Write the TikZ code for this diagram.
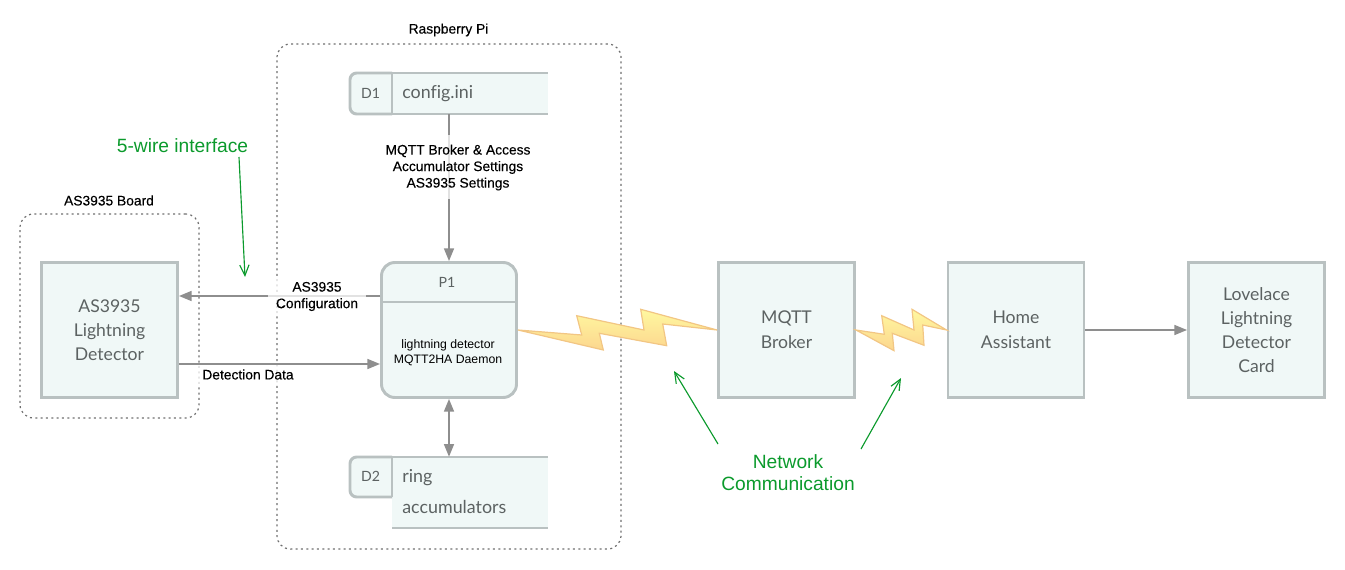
\documentclass[tikz,border=0pt]{standalone}
\usepackage{fontspec}
\setmainfont{Liberation Sans}
\newfontfamily\boxfont[Ligatures=NoCommon]{Lato}
\newfontfamily\lblfont[FakeBold=0.22]{Liberation Sans}
\usetikzlibrary{arrows.meta,calc}
\definecolor{edgegray}{HTML}{B9C1C1}
\definecolor{boxfill}{HTML}{F0F8F7}
\definecolor{boxtext}{HTML}{5C6262}
\definecolor{conngray}{HTML}{8E8E8E}
\definecolor{notegreen}{HTML}{0B9A2C}
\definecolor{dashgray}{HTML}{6E6E6E}
\definecolor{boltedge}{HTML}{F2C684}
\definecolor{bolttop}{HTML}{FFF8A0}
\definecolor{boltbot}{HTML}{FCD68E}
\tikzset{
  blockbox/.style={draw=edgegray,line width=2.2pt,fill=boxfill,minimum width=136*0.75pt,minimum height=135*0.75pt,inner sep=0pt,align=center,text=boxtext,font=\boxfont\fontsize{13.2}{18}\selectfont},
  roundbox/.style={draw=edgegray,line width=2.2pt,fill=boxfill,rounded corners=10pt,minimum width=135*0.75pt,minimum height=135*0.75pt,inner sep=0pt},
  groupbox/.style={draw=dashgray,line width=0.9pt,dash pattern=on 1.5pt off 2.5pt,rounded corners=10pt,fill=none,inner sep=0pt},
  conn/.style={draw=conngray,line width=1.2pt},
  tip/.style={-{Triangle[length=9.5pt,width=7.5pt,fill=conngray]}},
  twotip/.style={{Triangle[length=9.5pt,width=7.5pt,fill=conngray]}-{Triangle[length=9.5pt,width=7.5pt,fill=conngray]}},
  label/.style={font=\lblfont\fontsize{10.35}{12.4}\selectfont,text=black,align=center,inner sep=0pt},
  connlabel/.style={label,fill=white,fill opacity=0.75,text opacity=1},
  boxlabel/.style={font=\boxfont\fontsize{13.4}{22}\selectfont,text=boxtext,inner sep=0pt},
  tablabel/.style={font=\boxfont\fontsize{10.6}{13}\selectfont,text=boxtext,inner sep=0pt},
  green note/.style={font=\fontsize{14.4}{16.5}\selectfont,text=notegreen,align=center,inner sep=0pt},
  greenarrow/.style={draw=notegreen,line width=0.85pt,-{Straight Barb[length=8pt,width=7pt]}},
  bolt/.style={draw=boltedge,line width=0.9pt,line join=miter,top color=bolttop,bottom color=boltbot},
  edge/.style={draw=edgegray,line width=2.2pt}
}
\begin{document}
\begin{tikzpicture}[x=0.75pt,y=-0.75pt]
\useasboundingbox (0,0) rectangle (1345,570);

% groups
\node[groupbox,minimum width=344*0.75pt,minimum height=505*0.75pt] (pi) at (449,296.5) {};
\node[groupbox,minimum width=179*0.75pt,minimum height=204*0.75pt] (board) at (109.5,316) {};
\node[label] (pilabel) at (448.5,30) {Raspberry Pi};
\node[label] (boardlabel) at (109,200.5) {AS3935 Board};

% D1
\fill[boxfill] (392,73) -- (548,73) -- (548,114) -- (392,114) -- cycle;
\node[inner sep=0pt,minimum width=156*0.75pt,minimum height=41*0.75pt] (d1) at (470,93.5) {};
\draw[edge,fill=boxfill,rounded corners=5pt] (392,73) -- (350,73) -- (350,114) -- (392,114);
\draw[edge] (392,73) -- (392,114);
\draw[edge] (392,73) -- (548,73);
\draw[edge] (392,114) -- (548,114);
\node[tablabel] (d1tab) at (370.5,93) {D1};
\node[boxlabel,anchor=west] (d1text) at (402,93.5) {config.ini};

% D2
\fill[boxfill] (392,457) -- (548,457) -- (548,528) -- (392,528) -- cycle;
\node[inner sep=0pt,minimum width=156*0.75pt,minimum height=71*0.75pt] (d2) at (470,492.5) {};
\draw[edge,fill=boxfill,rounded corners=5pt] (392,457) -- (350,457) -- (350,497) -- (392,497);
\draw[edge] (392,457) -- (392,497);
\draw[edge] (392,457) -- (548,457);
\draw[edge] (392,528) -- (548,528);
\node[tablabel] (d2tab) at (370.5,476) {D2};
\node[boxlabel,anchor=west] (d2a) at (402,477.5) {ring};
\node[boxlabel,anchor=west] (d2b) at (402,506.5) {accumulators};

% boxes
\node[blockbox] (as) at (109.5,330) {AS3935\\Lightning\\Detector};
\node[roundbox] (p1) at (449,330) {};
\draw[edge] (p1.west |- 0,302) -- (p1.east |- 0,302);
\node[tablabel] (p1title) at (447,282) {P1};
\node[font=\fontsize{9.2}{11.3}\selectfont,align=center,inner sep=0pt] (p1text) at (448,352.5) {lightning detector\\MQTT2HA Daemon};
\node[blockbox,font=\boxfont\fontsize{13.2}{18.5}\selectfont] (mqtt) at (786.5,330) {MQTT\\Broker};
\node[blockbox,font=\boxfont\fontsize{13.2}{18.5}\selectfont] (ha) at (1016,330) {Home\\Assistant};
\node[blockbox] (lovelace) at (1256.5,330) {Lovelace\\Lightning\\Detector\\Card};

% connectors
\coordinate (cfgy) at (0,296);
\coordinate (dety) at (0,364);
\draw[conn,tip] (p1.north |- d1.south) -- (p1.north);
\draw[conn,tip] (p1.west |- cfgy) -- (as.east |- cfgy);
\draw[conn,tip] (as.east |- dety) -- (p1.west |- dety);
\draw[conn,twotip] (p1.south) -- (p1.south |- d2.north);
\draw[conn,tip] (ha.east) -- (lovelace.west);

% connector labels
\node[connlabel,minimum width=146*0.75pt,minimum height=64*0.75pt] (lblcfg) at (458,167.5) {MQTT Broker \& Access\\Accumulator Settings\\AS3935 Settings};
\node[connlabel,minimum width=98*0.75pt,minimum height=36*0.75pt] (lblas) at (317,296.5) {AS3935\\Configuration};
\node[connlabel,minimum width=107*0.75pt,minimum height=20*0.75pt] (lbldet) at (248,374.5) {Detection Data};

% lightning bolts
\path[bolt] (p1.east) -- (603.3,350) -- (599.3,333.3) -- (666.7,345.7) -- (662.7,324) -- (mqtt.west) -- (640.7,309.3) -- (644,330) -- (576.7,315.7) -- (581.7,335) -- cycle;
\path[bolt] (mqtt.east) -- (894,350.7) -- (892.3,333.3) -- (924,345.3) -- (922.7,325) -- (ha.west) -- (912,309.3) -- (914,330) -- (881.7,315.7) -- (884.3,334.3) -- cycle;

% green notes
\node[green note] (wire) at (182.5,146) {5-wire interface};
\node[green note] (net) at (788,473) {Network\\Communication};
\coordinate (wireend) at (245,277);
\coordinate (neta) at (674,371);
\coordinate (netb) at (901,378);
\coordinate (wirestart) at (239,157);
\coordinate (netas) at (718,444);
\coordinate (netbs) at (861,449);
\draw[greenarrow] (wirestart) -- (wireend);
\draw[greenarrow] (netas) -- (neta);
\draw[greenarrow] (netbs) -- (netb);
\end{tikzpicture}
\end{document}
